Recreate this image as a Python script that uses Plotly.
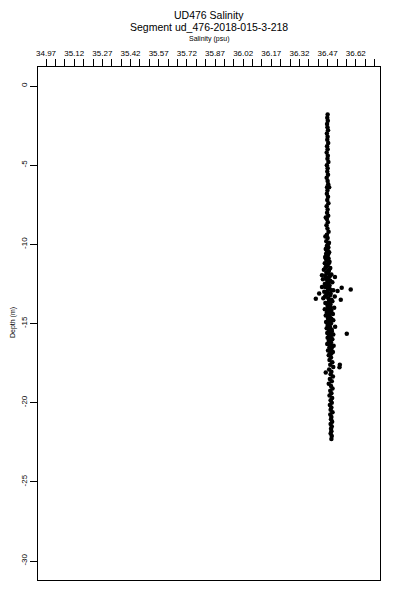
import plotly.graph_objects as go

# ---------------- data ----------------
depth_a = [-1.8, -2.0, -2.2, -2.4, -2.6, -2.8, -3.0, -3.2, -3.4, -3.6,
           -3.8, -4.0, -4.2, -4.4, -4.6, -4.8, -5.0, -5.2, -5.4, -5.6,
           -5.8, -6.0, -6.2, -6.4, -6.6, -6.8, -7.0, -7.2, -7.4, -7.6,
           -7.8, -8.0, -8.2, -8.4, -8.6, -8.8, -9.0, -9.2, -9.4, -9.6,
           -9.8, -10.0, -6.4, -8.3, -9.5, -9.9]
sal_a = [36.470, 36.468, 36.471, 36.467, 36.469, 36.472, 36.466, 36.470, 36.468, 36.473,
         36.467, 36.470, 36.465, 36.471, 36.469, 36.474, 36.466, 36.470, 36.468, 36.472,
         36.465, 36.470, 36.473, 36.467, 36.469, 36.466, 36.472, 36.468, 36.474, 36.465,
         36.470, 36.467, 36.473, 36.466, 36.471, 36.464, 36.469, 36.475, 36.466, 36.470,
         36.463, 36.472, 36.478, 36.460, 36.458, 36.477]

depth_b = [-10.1, -10.2, -10.3, -10.4, -10.5, -10.6, -10.7, -10.8, -10.9, -11.0,
           -11.1, -11.2, -11.3, -11.4, -11.5, -11.6, -11.7, -11.8, -11.9, -12.0,
           -12.1, -12.2, -12.3, -12.4, -12.5, -12.6, -12.7, -12.8, -12.9, -13.0,
           -13.1, -13.2, -13.3, -13.4, -13.5, -13.6, -13.7, -13.8, -13.9, -14.0,
           -14.1, -14.2, -14.3, -14.4, -14.5, -14.6, -14.7, -14.8, -14.9, -15.0,
           -15.1, -15.2, -15.3, -15.4, -15.5, -15.6, -15.7, -15.8, -15.9, -16.0,
           -16.1, -16.2, -16.3, -16.4, -16.5, -16.6, -16.7, -16.8, -16.9, -17.0]
sal_b = [36.466, 36.474, 36.460, 36.470, 36.478, 36.462, 36.469, 36.457, 36.475, 36.465,
         36.480, 36.455, 36.470, 36.462, 36.484, 36.450, 36.473, 36.463, 36.490, 36.458,
         36.476, 36.445, 36.468, 36.495, 36.455, 36.480, 36.440, 36.472, 36.500, 36.452,
         36.486, 36.463, 36.508, 36.447, 36.478, 36.495, 36.458, 36.485, 36.470, 36.505,
         36.455, 36.490, 36.466, 36.498, 36.460, 36.482, 36.472, 36.500, 36.462, 36.488,
         36.475, 36.510, 36.465, 36.492, 36.478, 36.468, 36.500, 36.483, 36.470, 36.495,
         36.476, 36.488, 36.468, 36.502, 36.480, 36.490, 36.472, 36.498, 36.484, 36.476]

depth_b2 = [-10.2, -10.4, -10.6, -10.8, -11.0, -11.2, -11.4, -11.6, -11.8, -12.0,
            -12.2, -12.4, -12.6, -12.8, -13.0, -13.2, -13.4, -13.6, -13.8, -14.0,
            -14.2, -14.4, -14.6, -14.8, -15.0, -15.2, -15.4, -15.6, -15.8, -16.0,
            -16.2, -16.4, -16.6, -16.8, -17.0]
sal_b2 = [36.470, 36.466, 36.474, 36.468, 36.472, 36.476, 36.464, 36.478, 36.470, 36.482,
          36.468, 36.476, 36.472, 36.480, 36.466, 36.484, 36.474, 36.478, 36.470, 36.486,
          36.476, 36.480, 36.474, 36.488, 36.478, 36.482, 36.476, 36.486, 36.480, 36.484,
          36.478, 36.488, 36.482, 36.486, 36.480]

depth_b3 = [-10.3, -10.5, -10.7, -10.9, -11.1, -11.3, -11.5, -11.7, -11.9, -12.1,
            -12.3, -12.5, -12.7, -12.9, -13.1, -13.3, -13.5, -13.7, -13.9, -14.1,
            -14.3, -14.5, -14.7, -14.9, -15.1, -15.3, -15.5, -15.7, -15.9, -16.1,
            -16.3, -16.5, -16.7, -16.9]
sal_b3 = [36.464, 36.472, 36.468, 36.460, 36.476, 36.466, 36.458, 36.474, 36.480, 36.462,
          36.484, 36.466, 36.458, 36.488, 36.474, 36.456, 36.490, 36.466, 36.480, 36.470,
          36.486, 36.474, 36.490, 36.478, 36.470, 36.484, 36.492, 36.476, 36.488, 36.482,
          36.476, 36.492, 36.484, 36.490]

depth_c = [-17.15, -17.30, -17.45, -17.60, -17.75, -17.90, -18.05, -18.20, -18.35, -18.50,
           -18.65, -18.80, -18.95, -19.10, -19.25, -19.40, -19.55, -19.70, -19.85, -20.00,
           -20.15, -20.30, -20.45, -20.60, -20.75, -20.90, -21.05, -21.20, -21.35, -21.50,
           -21.65, -21.80, -21.95, -22.10, -22.30, -17.60, -18.10]
sal_c = [36.488, 36.480, 36.495, 36.484, 36.500, 36.478, 36.490, 36.486, 36.498, 36.482,
         36.492, 36.476, 36.488, 36.496, 36.484, 36.490, 36.480, 36.494, 36.486, 36.492,
         36.482, 36.490, 36.486, 36.496, 36.484, 36.490, 36.488, 36.494, 36.486, 36.492,
         36.488, 36.490, 36.486, 36.492, 36.490, 36.535, 36.460]

depth_out = [-12.07, -12.74, -12.85, -13.44, -13.50, -15.65, -17.76, -12.95, -13.10, -11.95]
sal_out = [36.509, 36.545, 36.593, 36.407, 36.540, 36.572, 36.533, 36.523, 36.425, 36.440]

depth = depth_a + depth_b + depth_b2 + depth_b3 + depth_c + depth_out
salinity = sal_a + sal_b + sal_b2 + sal_b3 + sal_c + sal_out

x_tick_vals = [34.97, 35.02, 35.07, 35.12, 35.17, 35.22, 35.27, 35.32, 35.37, 35.42,
               35.47, 35.52, 35.57, 35.62, 35.67, 35.72, 35.77, 35.82, 35.87, 35.92,
               35.97, 36.02, 36.07, 36.12, 36.17, 36.22, 36.27, 36.32, 36.37, 36.42,
               36.47, 36.52, 36.57, 36.62, 36.67, 36.72]
x_labels = ["34.97", "35.12", "35.27", "35.42", "35.57", "35.72",
            "35.87", "36.02", "36.17", "36.32", "36.47", "36.62"]
y_tick_vals = [0, -5, -10, -15, -20, -25, -30]
y_tick_text = ["0", "-5", "-10", "-15", "-20", "-25", "-30"]

# tick text: label every third tick
x_tick_text = []
li = 0
for i, v in enumerate(x_tick_vals):
    if i % 3 == 0 and li < len(x_labels):
        x_tick_text.append(x_labels[li])
        li += 1
    else:
        x_tick_text.append("")

FONT = "Liberation Sans, Arial, Helvetica, sans-serif"

# The page body has an 8px margin: the figure is drawn offset by (8, 8).
OFF = 8
W, H = 400, 600
BOX_L, BOX_R, BOX_T, BOX_B = 38, 380, 67, 580   # target screen pixels
ML = BOX_L - OFF
MT = BOX_T - OFF
MR = (W + OFF) - BOX_R
MB = (H + OFF) - BOX_B
PW = W - ML - MR
PH = H - MT - MB


def paper_xy(sx, sy):
    fx, fy = sx - OFF, sy - OFF
    return (fx - ML) / PW, 1 - (fy - MT) / PH


fig = go.Figure(go.Scatter(
    x=salinity, y=depth, mode="markers",
    marker=dict(color="black", size=4.5, line=dict(width=0)),
    hoverinfo="skip", showlegend=False,
))

ann_specs = [
    ("UD476 Salinity", 209, 15, 10.5, 0),
    ("Segment ud_476-2018-015-3-218", 209, 27, 10.5, 0),
    ("Salinity (psu)", 209, 39, 7, 0),
    ("Depth (m)", 13, 323, 7, -90),
]
annotations = []
for text, sx, sy, size, ang in ann_specs:
    px, py = paper_xy(sx, sy)
    annotations.append(dict(
        text=text, x=px, y=py, xref="paper", yref="paper",
        xanchor="center", yanchor="middle", showarrow=False,
        textangle=ang, font=dict(size=size, family=FONT, color="black"),
    ))

fig.update_layout(
    width=W, height=H,
    margin=dict(l=ML, r=MR, t=MT, b=MB, autoexpand=False),
    paper_bgcolor="white", plot_bgcolor="white",
    font=dict(family=FONT, color="black"),
    xaxis=dict(
        side="top", range=[34.927, 36.749],
        tickmode="array", tickvals=x_tick_vals, ticktext=x_tick_text,
        ticks="outside", ticklen=7, tickwidth=1, tickcolor="black",
        tickfont=dict(size=8, family=FONT),
        showline=True, linecolor="black", linewidth=1, mirror=True,
        showgrid=False, zeroline=False, automargin=False,
    ),
    yaxis=dict(
        range=[-31.2, 1.2],
        tickmode="array", tickvals=y_tick_vals, ticktext=y_tick_text,
        ticks="outside", ticklen=7, tickwidth=1, tickcolor="black",
        tickangle=-90, tickfont=dict(size=8, family=FONT),
        showline=True, linecolor="black", linewidth=1, mirror=True,
        showgrid=False, zeroline=False, automargin=False,
    ),
    annotations=annotations,
)

fig.write_html("out.html")
